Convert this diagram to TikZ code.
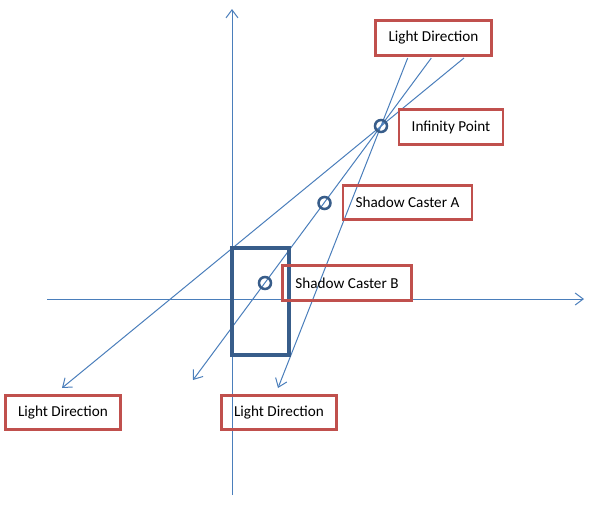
\documentclass[tikz,border=0pt]{standalone}
\usepackage{fontspec}
\setmainfont{Carlito}
\usepackage{xcolor}
\definecolor{raycol}{HTML}{4A7EBB}
\definecolor{boxcol}{HTML}{C0504D}
\definecolor{markcol}{HTML}{385D8A}
\usetikzlibrary{arrows.meta,positioning}

\begin{document}
\begin{tikzpicture}[x=0.75pt,y=-0.75pt,
 ray/.style={draw=raycol,line width=0.75pt,-{Straight Barb[length=6pt,width=9pt]}},
 lbl/.style={draw=boxcol,line width=2.2pt,rectangle,font=\fontsize{11.4}{13}\selectfont,
   inner xsep=9.5pt,minimum height=26pt},
 pt/.style={draw=markcol,line width=1.9pt,circle,inner sep=0pt,minimum size=9pt},
 caster/.style={draw=markcol,line width=2.3pt}]
 \useasboundingbox (0,0) rectangle (589,508);

 \coordinate (ytail) at (232,495);
 \coordinate (yhead) at (232,9);
 \coordinate (xtail) at (47,299);
 \coordinate (xhead) at (584,299);
 \draw[ray] (ytail) -- (yhead);
 \draw[ray] (xtail) -- (xhead);

 \coordinate (src1) at (464,58);
 \coordinate (src2) at (431.3,58);
 \coordinate (src3) at (407.7,58);
 \coordinate (dst1) at (62,388);
 \coordinate (dst2) at (193,380);
 \coordinate (dst3) at (278,388);
 \draw[ray] (src1) -- (dst1);
 \draw[ray] (src2) -- (dst2);
 \draw[ray] (src3) -- (dst3);

 \draw[caster] (232,248) rectangle (289,355);

 \node[pt] (inf) at (381,126) {};
 \node[pt] (casterA) at (324.5,203) {};
 \node[pt] (casterB) at (265,283) {};

 \node[lbl] (lightTop) at (433.5,38) {Light Direction};
 \node[lbl] (infLbl) at (451,127) {Infinity Point};
 \node[lbl] (casterAlbl) at (407.5,202.5) {Shadow Caster A};
 \node[lbl] (casterBlbl) at (347,283) {Shadow Caster B};
 \node[lbl] (lightLeft) at (63,412.5) {Light Direction};
 \node[lbl] (lightRight) at (279,412.5) {Light Direction};

\end{tikzpicture}
\end{document}
